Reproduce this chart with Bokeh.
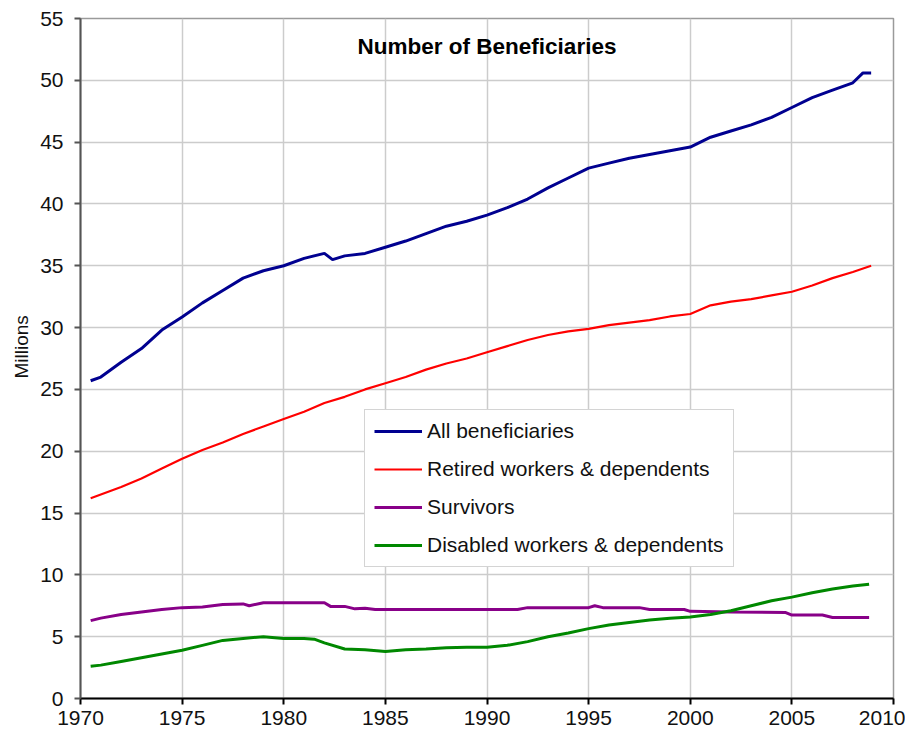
from bokeh.plotting import figure
from bokeh.models import Range1d, SingleIntervalTicker, Legend, LegendItem, Label, Title
from bokeh.embed import file_html
from bokeh.resources import INLINE

# ---- data (millions of beneficiaries) ----
all_years = [1970.5, 1971, 1972, 1973, 1974, 1975, 1976, 1977, 1978, 1979, 1980, 1981,
             1982, 1982.4, 1983, 1984, 1985, 1986, 1987, 1988, 1989, 1990, 1991, 1992,
             1993, 1994, 1995, 1996, 1997, 1998, 1999, 2000, 2001, 2002, 2003, 2004,
             2005, 2006, 2007, 2008, 2008.5, 2008.9]
all_vals = [25.7, 26.0, 27.2, 28.3, 29.8, 30.85, 32.0, 33.0, 34.0, 34.6, 35.0, 35.6,
            36.0, 35.5, 35.8, 36.0, 36.5, 37.0, 37.6, 38.2, 38.6, 39.1, 39.7, 40.4,
            41.3, 42.1, 42.9, 43.3, 43.7, 44.0, 44.3, 44.6, 45.4, 45.9, 46.4, 47.0,
            47.8, 48.6, 49.2, 49.8, 50.6, 50.6]

ret_years = [1970.5, 1972, 1973, 1974, 1975, 1976, 1977, 1978, 1979, 1980, 1981, 1982,
             1983, 1984, 1985, 1986, 1987, 1988, 1989, 1990, 1991, 1992, 1993, 1994,
             1995, 1996, 1997, 1998, 1999, 2000, 2001, 2002, 2003, 2004, 2005, 2006,
             2007, 2008, 2008.9]
ret_vals = [16.2, 17.1, 17.8, 18.6, 19.4, 20.1, 20.7, 21.4, 22.0, 22.6, 23.2, 23.9,
            24.4, 25.0, 25.5, 26.0, 26.6, 27.1, 27.5, 28.0, 28.5, 29.0, 29.4, 29.7,
            29.9, 30.2, 30.4, 30.6, 30.9, 31.1, 31.8, 32.1, 32.3, 32.6, 32.9, 33.4,
            34.0, 34.5, 35.0]

surv_years = [1970.5, 1971, 1972, 1973, 1974, 1975, 1976, 1977, 1978, 1978.3, 1979,
              1982, 1982.3, 1983, 1983.5, 1984, 1984.5, 1990, 1991.5, 1992, 1995,
              1995.3, 1995.7, 1997.5, 1998, 1999.7, 2000, 2002, 2004.7, 2005, 2006.5,
              2007, 2008.8]
surv_vals = [6.3, 6.5, 6.8, 7.0, 7.2, 7.35, 7.4, 7.6, 7.65, 7.5, 7.75,
             7.75, 7.45, 7.45, 7.25, 7.3, 7.2, 7.2, 7.2, 7.35, 7.35,
             7.5, 7.35, 7.35, 7.2, 7.2, 7.05, 7.0, 6.95, 6.75, 6.75,
             6.55, 6.55]

dis_years = [1970.5, 1971, 1972, 1973, 1974, 1975, 1976, 1977, 1978, 1979, 1980, 1981,
             1981.5, 1982, 1983, 1984, 1985, 1986, 1987, 1988, 1989, 1990, 1991, 1992,
             1993, 1994, 1995, 1996, 1997, 1998, 1999, 2000, 2001, 2002, 2003, 2004,
             2005, 2006, 2007, 2008, 2008.8]
dis_vals = [2.6, 2.7, 3.0, 3.3, 3.6, 3.9, 4.3, 4.7, 4.85, 5.0, 4.85, 4.85,
            4.8, 4.5, 4.0, 3.95, 3.8, 3.95, 4.0, 4.1, 4.15, 4.15, 4.3, 4.6,
            5.0, 5.3, 5.65, 5.95, 6.15, 6.35, 6.5, 6.6, 6.8, 7.1, 7.5, 7.9,
            8.2, 8.55, 8.85, 9.1, 9.25]

series_labels = ["All beneficiaries", "Retired workers & dependents", "Survivors",
                 "Disabled workers & dependents"]
title_text = "Number of Beneficiaries"
y_label = "Millions"

FONT = "Liberation Sans"

p = figure(width=905, height=730, output_backend="svg", toolbar_location=None,
           x_range=Range1d(1970, 2010), y_range=Range1d(0, 55),
           min_border_left=80, min_border_top=18, min_border_right=12,
           min_border_bottom=32)
p.background_fill_color = "white"
p.border_fill_color = "white"
p.outline_line_color = "#9a9a9a"
p.outline_line_width = 1.5

p.xaxis.ticker = SingleIntervalTicker(interval=5)
p.yaxis.ticker = SingleIntervalTicker(interval=5)
p.xgrid.ticker = SingleIntervalTicker(interval=5)
p.ygrid.ticker = SingleIntervalTicker(interval=5)
for g in (p.xgrid, p.ygrid):
    g.grid_line_color = "#cccccc"
    g.grid_line_width = 1.5

for ax in (p.xaxis, p.yaxis):
    ax.major_label_text_font = FONT
    ax.major_label_text_font_size = "21px"
    ax.major_label_text_color = "#111111"
    ax.minor_tick_line_color = None
    ax.major_tick_in = 0
    ax.major_tick_out = 6
    ax.axis_line_width = 2
    ax.major_tick_line_width = 2
p.xaxis.axis_line_color = "black"
p.xaxis.major_tick_line_color = "black"
p.yaxis.axis_line_color = "#555555"
p.yaxis.major_tick_line_color = "#555555"
p.xaxis.major_label_standoff = 6
p.yaxis.major_label_standoff = 11

r_all = p.line(all_years, all_vals, line_color="#000090", line_width=3)
r_ret = p.line(ret_years, ret_vals, line_color="#ff0000", line_width=2.2)
r_surv = p.line(surv_years, surv_vals, line_color="#880088", line_width=3)
r_dis = p.line(dis_years, dis_vals, line_color="#008800", line_width=3)

legend = Legend(items=[LegendItem(label=series_labels[0], renderers=[r_all]),
                       LegendItem(label=series_labels[1], renderers=[r_ret]),
                       LegendItem(label=series_labels[2], renderers=[r_surv]),
                       LegendItem(label=series_labels[3], renderers=[r_dis])],
                location=(284, 131))
legend.label_text_font = FONT
legend.label_text_font_size = "21px"
legend.label_text_color = "#111111"
legend.glyph_width = 48
legend.glyph_height = 20
legend.label_height = 22
legend.label_standoff = 5
legend.spacing = 14
legend.padding = 9
legend.margin = 0
legend.border_line_color = "#aaaaaa"
legend.border_line_width = 1.5
legend.background_fill_alpha = 1.0
p.add_layout(legend, "center")

p.add_layout(Label(x=1990, y=52.7, text=title_text, text_align="center",
                   text_baseline="middle", text_font=FONT, text_font_size="22.5px",
                   text_font_style="bold", text_color="black"))

# y-axis title, as a side title left of the tick labels
p.add_layout(Title(text=y_label, align="left", offset=320, standoff=11,
                   text_font=FONT, text_font_size="19px", text_font_style="normal",
                   text_color="#111111"), "left")

open("out.html", "w").write(file_html(p, INLINE))
